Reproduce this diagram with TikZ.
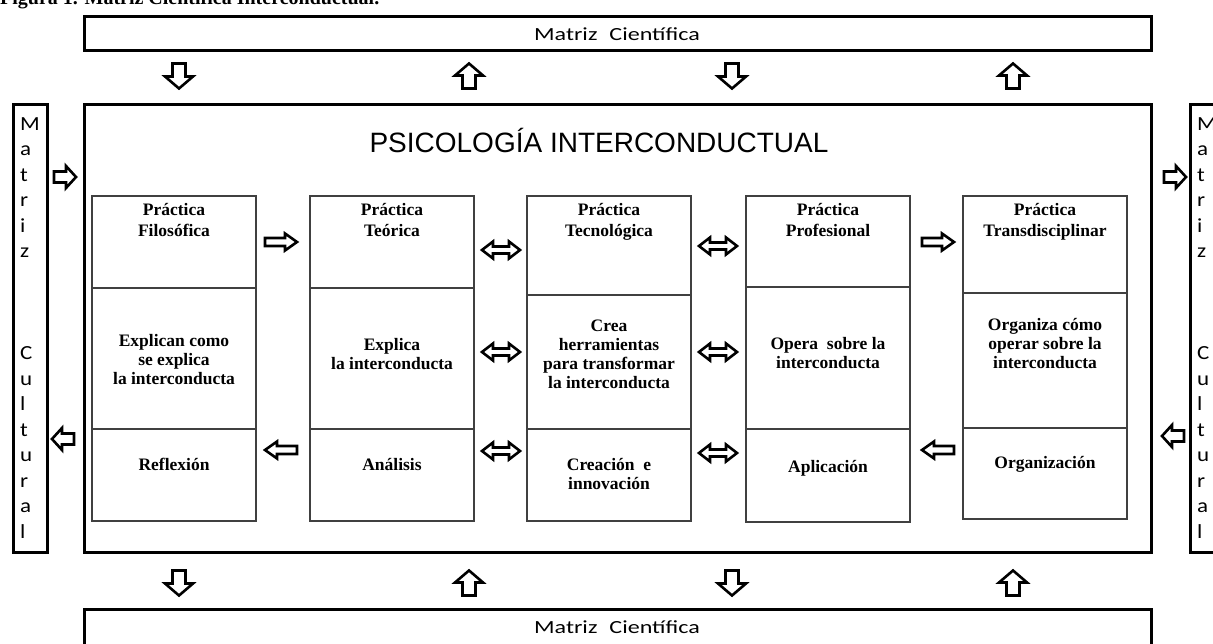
\documentclass[tikz,border=0pt]{standalone}
\usepackage{fontspec}
\setmainfont{Liberation Serif}
\newfontfamily\arialf{Liberation Sans}
\newfontfamily\calh[FakeStretch=1.3]{Carlito}
\newfontfamily\calv[FakeStretch=1.15]{Carlito}
\newcommand{\onearrow}[8]{% name, x, y, angle, L, h, H, s
  \coordinate (#1) at (#2,#3);
  \draw[blockarr, shift={(#1)}, rotate=#4]
    (-#5/2,-#8) -- (#5/2-#6,-#8) -- (#5/2-#6,-#7) -- (#5/2,0) -- (#5/2-#6,#7) -- (#5/2-#6,#8) -- (-#5/2,#8) -- cycle;}
\newcommand{\twoarrow}[7]{% name, x, y, L, h, H, s
  \coordinate (#1) at (#2,#3);
  \draw[blockarr, shift={(#1)}]
    (-#4/2,0) -- (-#4/2+#5,-#6) -- (-#4/2+#5,-#7) -- (#4/2-#5,-#7) -- (#4/2-#5,-#6) -- (#4/2,0) -- (#4/2-#5,#6) -- (#4/2-#5,#7) -- (-#4/2+#5,#7) -- (-#4/2+#5,#6) -- cycle;}
\begin{document}
\begin{tikzpicture}[x=1pt,y=-1pt,
  outer/.style={draw=black, line width=3pt, anchor=north west, inner sep=0pt, outer sep=0pt},
  cell/.style={draw=black!75, line width=1.2pt, anchor=north west, minimum width=164pt, inner sep=0pt, outer sep=0pt},
  celltxt/.style={font=\bfseries\fontsize{17.5}{19}\selectfont, align=center, inner sep=0pt, anchor=base},
  blockarr/.style={draw=black, line width=2.6pt, fill=white, line join=miter},
  mtxt/.style={font=\calh\fontsize{18.5}{20}\selectfont, inner sep=0pt},
  vtxt/.style={font=\calv\fontsize{20}{25.5}\selectfont, align=left, inner sep=0pt, anchor=base west}]
\useasboundingbox (0,0) rectangle (1213,644);
\clip (0,0) rectangle (1213,644);
\fill[white] (0,0) rectangle (1213,644);

% caption (cut at top)
\node[font=\bfseries\fontsize{20}{21}\selectfont, anchor=base west, inner sep=0pt] (caption) at (0,5) {Figura 1. Matriz Científica Interconductual.};

% top and bottom boxes
\node[outer, minimum width=1067pt, minimum height=34pt] (topbox) at (84,17) {};
\node[mtxt] (toptxt) at (617,34) {Matriz\hskip 12pt Científica};
\node[outer, minimum width=1067pt, minimum height=50pt] (botbox) at (84,609) {};
\node[mtxt] (bottxt) at (617,627) {Matriz\hskip 12pt Científica};

% main box
\node[outer, minimum width=1067pt, minimum height=447pt] (main) at (84,105) {};
\node[font=\arialf\fontsize{28}{30}\selectfont, anchor=base, inner sep=0pt] (title) at (599,153) {PSICOLOGÍA INTERCONDUCTUAL};

% side boxes
\node[outer, minimum width=34pt, minimum height=447pt] (leftbox) at (13,105) {};
\node[vtxt] (lefttxt) at (20,538) {M\\a\\t\\r\\i\\z\\[76.5pt]C\\u\\l\\t\\u\\r\\a\\l};
\node[outer, minimum width=40pt, minimum height=447pt] (rightbox) at (1190,105) {};
\node[vtxt] (righttxt) at (1197,538) {M\\a\\t\\r\\i\\z\\[76.5pt]C\\u\\l\\t\\u\\r\\a\\l};

% columns
\node[cell, minimum height=92pt] (c1t) at (92,196) {};
\node[cell, minimum height=141pt] (c1m) at (92,288) {};
\node[cell, minimum height=92pt] (c1b) at (92,429) {};
\node[cell, minimum height=92pt] (c2t) at (310,196) {};
\node[cell, minimum height=141pt] (c2m) at (310,288) {};
\node[cell, minimum height=92pt] (c2b) at (310,429) {};
\node[cell, minimum height=99pt] (c3t) at (527,196) {};
\node[cell, minimum height=134pt] (c3m) at (527,295) {};
\node[cell, minimum height=92pt] (c3b) at (527,429) {};
\node[cell, minimum height=91pt] (c4t) at (746,196) {};
\node[cell, minimum height=142pt] (c4m) at (746,287) {};
\node[cell, minimum height=93pt] (c4b) at (746,429) {};
\node[cell, minimum height=97pt] (c5t) at (963,196) {};
\node[cell, minimum height=135pt] (c5m) at (963,293) {};
\node[cell, minimum height=91pt] (c5b) at (963,428) {};

% texts (anchor = baseline of last line)
\node[celltxt] (t1t) at (174,237) {Práctica\\[2pt]Filosófica};
\node[celltxt] (t2t) at (392,237) {Práctica\\[2pt]Teórica};
\node[celltxt] (t3t) at (609,237) {Práctica\\[2pt]Tecnológica};
\node[celltxt] (t4t) at (828,237) {Práctica\\[2pt]Profesional};
\node[celltxt] (t5t) at (1045,237) {Práctica\\[2pt]Transdisciplinar};

\node[celltxt] (t1m) at (174,384) {Explican como\\se explica\\la interconducta};
\node[celltxt] (t2m) at (392,370) {Explica\\la interconducta};
\node[celltxt] (t3m) at (609,388) {Crea\\herramientas\\para transformar\\la interconducta};
\node[celltxt] (t4m) at (828,368) {Opera\ \ sobre la\\interconducta};
\node[celltxt] (t5m) at (1045,368) {Organiza cómo\\operar sobre la\\interconducta};

\node[celltxt] (t1b) at (174,470) {Reflexión};
\node[celltxt] (t2b) at (392,470) {Análisis};
\node[celltxt] (t3b) at (609,489) {Creación\ \ e\\innovación};
\node[celltxt] (t4b) at (828,472) {Aplicación};
\node[celltxt] (t5b) at (1045,468) {Organización};

% arrows between columns
\onearrow{a12t}{281}{242}{0}{32}{12}{8.5}{4}
\twoarrow{a23t}{501}{250}{38}{11}{8.5}{3.5}
\twoarrow{a34t}{718}{246}{38}{11}{8.5}{3.5}
\onearrow{a45t}{938}{242}{0}{32}{12}{8.5}{4}
\twoarrow{a23m}{501}{352}{38}{11}{8.5}{3.5}
\twoarrow{a34m}{718}{352}{38}{11}{8.5}{3.5}
\onearrow{a12b}{281}{450}{180}{32}{12}{8.5}{4}
\twoarrow{a23b}{501}{451}{38}{11}{8.5}{3.5}
\twoarrow{a34b}{718}{453}{38}{11}{8.5}{3.5}
\onearrow{a45b}{938}{450}{180}{32}{12}{8.5}{4}

% side arrows
\onearrow{sl1}{65}{177}{0}{22}{10}{11}{5.5}
\onearrow{sl2}{63}{439}{180}{22}{10}{11}{5.5}
\onearrow{sr1}{1175}{177}{0}{22}{10}{11}{5.5}
\onearrow{sr2}{1173}{436}{180}{22}{10}{11}{5.5}

% top/bottom arrows
\onearrow{v1t}{179}{76}{-90}{25}{12}{14}{6.5}
\onearrow{v2t}{469}{76}{90}{25}{12}{14}{6.5}
\onearrow{v3t}{732}{76}{-90}{25}{12}{14}{6.5}
\onearrow{v4t}{1013}{76}{90}{25}{12}{14}{6.5}
\onearrow{v1b}{179}{583}{-90}{25}{12}{14}{6.5}
\onearrow{v2b}{469}{583}{90}{25}{12}{14}{6.5}
\onearrow{v3b}{732}{583}{-90}{25}{12}{14}{6.5}
\onearrow{v4b}{1013}{583}{90}{25}{12}{14}{6.5}
\end{tikzpicture}
\end{document}
